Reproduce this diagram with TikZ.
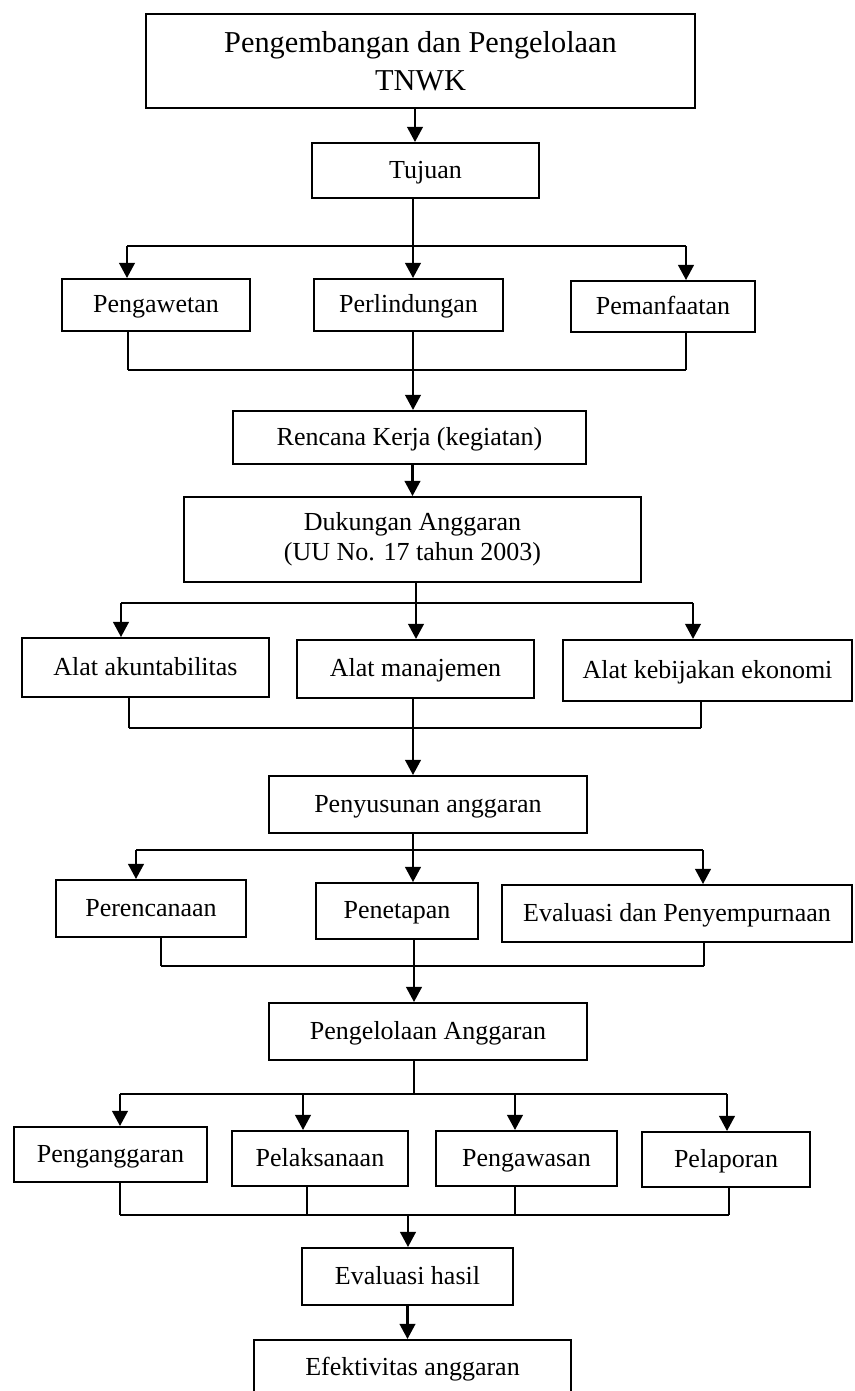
\documentclass[tikz,border=0pt]{standalone}
\usepackage{fontspec}
\setmainfont{Liberation Serif}
\usetikzlibrary{arrows.meta}

\begin{document}
\begin{tikzpicture}[x=0.4615pt, y=-0.4615pt,
    box/.style={draw, line width=0.9pt, inner sep=0pt, align=center, text height=9.4pt, text depth=2.2pt, font=\fontsize{12}{14}\selectfont},
    two lines/.style={text height=, text depth=},
    link/.style={line width=1.1pt},
    thin link/.style={line width=0.7pt},
    arr/.style={line width=1.1pt, -{Triangle[length=7pt, width=7.2pt]}}]
    \useasboundingbox (0,0) rectangle (854,1391);

    % boxes
    \node[box, two lines, minimum width=253.4pt, minimum height=43.8pt, font=\fontsize{14}{17.5}\selectfont] (main) at (420.5,61) {Pengembangan dan Pengelolaan\\TNWK};
    \node[box, minimum width=104.8pt, minimum height=25.4pt] (tujuan) at (425.5,170.5) {Tujuan};
    \node[box, minimum width=86.8pt, minimum height=24pt] (pengawetan) at (156,305) {Pengawetan};
    \node[box, minimum width=87.2pt, minimum height=24pt] (perlindungan) at (408.5,305) {Perlindungan};
    \node[box, minimum width=84.9pt, minimum height=23.5pt] (pemanfaatan) at (663,306.5) {Pemanfaatan};
    \node[box, minimum width=162.9pt, minimum height=24.5pt] (rencana) at (409.5,437.5) {Rencana Kerja (kegiatan)};
    \node[box, two lines, minimum width=210.9pt, minimum height=39.2pt] (dukungan) at (412.5,539.5) {Dukungan Anggaran\\(UU No. 17 tahun 2003)};
    \node[box, minimum width=114pt, minimum height=27.2pt] (akuntabilitas) at (145.5,667.5) {Alat akuntabilitas};
    \node[box, minimum width=109.4pt, minimum height=26.8pt] (manajemen) at (415.5,669) {Alat manajemen};
    \node[box, minimum width=133.4pt, minimum height=28.2pt] (kebijakan) at (707.5,670.5) {Alat kebijakan ekonomi};
    \node[box, minimum width=146.8pt, minimum height=26.3pt] (penyusunan) at (428,804.5) {Penyusunan anggaran};
    \node[box, minimum width=87.7pt, minimum height=26.3pt] (perencanaan) at (151,908.5) {Perencanaan};
    \node[box, minimum width=74.8pt, minimum height=25.8pt] (penetapan) at (397,911) {Penetapan};
    \node[box, minimum width=161.5pt, minimum height=26.3pt] (penyempurnaan) at (677,913.5) {Evaluasi dan Penyempurnaan};
    \node[box, minimum width=146.8pt, minimum height=26.3pt] (pengelolaan) at (428,1031.5) {Pengelolaan Anggaran};
    \node[box, minimum width=89.1pt, minimum height=25.4pt] (penganggaran) at (110.5,1154.5) {Penganggaran};
    \node[box, minimum width=81.2pt, minimum height=25.4pt] (pelaksanaan) at (320,1158.5) {Pelaksanaan};
    \node[box, minimum width=83.5pt, minimum height=25.4pt] (pengawasan) at (526.5,1158.5) {Pengawasan};
    \node[box, minimum width=77.5pt, minimum height=25.4pt] (pelaporan) at (726,1159.5) {Pelaporan};
    \node[box, minimum width=97.4pt, minimum height=26.3pt] (evalhasil) at (407.5,1276.5) {Evaluasi hasil};
    \node[box, minimum width=146.3pt, minimum height=25.4pt] (efektivitas) at (412.5,1367.5) {Efektivitas anggaran};

    % main -> tujuan
    \coordinate (m0) at (415,0);
    \draw[arr] (main.south -| m0) -- (tujuan.north -| m0);

    % tujuan -> three aims
    \coordinate (a1) at (127,246);
    \coordinate (a2) at (413,246);
    \coordinate (a3) at (686,246);
    \draw[thin link] (tujuan.south -| a2) -- (a2);
    \draw[link] (a1) -- (a3);
    \foreach \c/\n in {a1/pengawetan, a2/perlindungan, a3/pemanfaatan}
        \draw[arr] (\c) -- (\c |- \n.north);

    \coordinate (b1) at (128,370);
    \coordinate (b2) at (413,370);
    \coordinate (b3) at (686,370);
    \foreach \c/\n in {b1/pengawetan, b2/perlindungan, b3/pemanfaatan}
        \draw[thin link] (\c |- \n.south) -- (\c);
    \draw[thin link] (b1) -- (b3);
    \draw[arr] (b2) -- (b2 |- rencana.north);

    \draw[arr] (rencana.south -| dukungan.north) -- (dukungan.north);

    % dukungan -> alat
    \coordinate (c1) at (121,603);
    \coordinate (c2) at (416,603);
    \coordinate (c3) at (693,603);
    \draw[thin link] (dukungan.south -| c2) -- (c2);
    \draw[link] (c1) -- (c3);
    \foreach \c/\n in {c1/akuntabilitas, c2/manajemen, c3/kebijakan}
        \draw[arr] (\c) -- (\c |- \n.north);

    \coordinate (d1) at (129,728);
    \coordinate (d2) at (413,728);
    \coordinate (d3) at (701,728);
    \foreach \c/\n in {d1/akuntabilitas, d2/manajemen, d3/kebijakan}
        \draw[thin link] (\c |- \n.south) -- (\c);
    \draw[thin link] (d1) -- (d3);
    \draw[arr] (d2) -- (d2 |- penyusunan.north);

    % penyusunan -> tahapan
    \coordinate (e1) at (136,850);
    \coordinate (e2) at (413,850);
    \coordinate (e3) at (703,850);
    \draw[thin link] (penyusunan.south -| e2) -- (e2);
    \draw[link] (e1) -- (e3);
    \foreach \c/\n in {e1/perencanaan, e2/penetapan, e3/penyempurnaan}
        \draw[arr] (\c) -- (\c |- \n.north);

    \coordinate (f1) at (161,966);
    \coordinate (f2) at (414,966);
    \coordinate (f3) at (704,966);
    \foreach \c/\n in {f1/perencanaan, f2/penetapan, f3/penyempurnaan}
        \draw[thin link] (\c |- \n.south) -- (\c);
    \draw[thin link] (f1) -- (f3);
    \draw[arr] (f2) -- (f2 |- pengelolaan.north);

    % pengelolaan -> siklus
    \coordinate (g0) at (414,1094);
    \coordinate (g1) at (120,1094);
    \coordinate (g2) at (303,1094);
    \coordinate (g3) at (515,1094);
    \coordinate (g4) at (727,1094);
    \draw[thin link] (pengelolaan.south -| g0) -- (g0);
    \draw[link] (g1) -- (g4);
    \foreach \c/\n in {g1/penganggaran, g2/pelaksanaan, g3/pengawasan, g4/pelaporan}
        \draw[arr] (\c) -- (\c |- \n.north);

    \coordinate (h0) at (408,1215);
    \coordinate (h1) at (120,1215);
    \coordinate (h2) at (307,1215);
    \coordinate (h3) at (515,1215);
    \coordinate (h4) at (729,1215);
    \foreach \c/\n in {h1/penganggaran, h2/pelaksanaan, h3/pengawasan, h4/pelaporan}
        \draw[thin link] (\c |- \n.south) -- (\c);
    \draw[thin link] (h1) -- (h4);
    \draw[arr] (h0) -- (h0 |- evalhasil.north);

    \draw[arr] (evalhasil.south) -- (evalhasil.south |- efektivitas.north);
\end{tikzpicture}
\end{document}
